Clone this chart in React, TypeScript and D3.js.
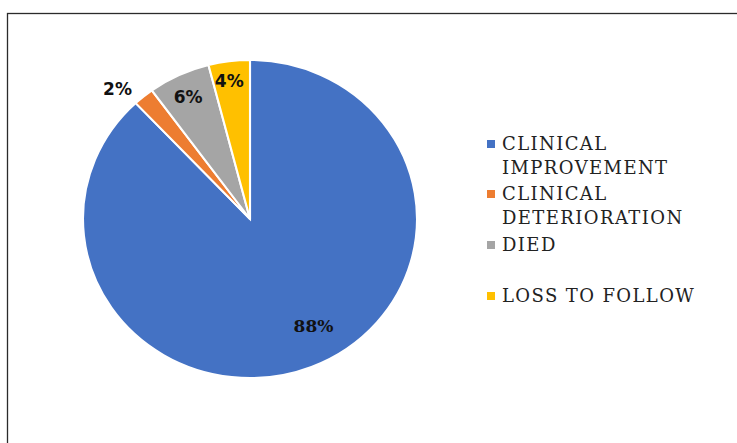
import React, { useRef, useEffect } from 'react';
import * as d3 from 'd3';

const categories = ['CLINICAL IMPROVEMENT', 'CLINICAL DETERIORATION', 'DIED', 'LOSS TO FOLLOW'];
const legendLines = [['CLINICAL', 'IMPROVEMENT'], ['CLINICAL', 'DETERIORATION'], ['DIED'], ['LOSS TO FOLLOW']];
const values = [88, 2, 6, 4];
const colors = ['#4472C4', '#ED7D31', '#A5A5A5', '#FFC000'];

const App: React.FC = () => {
  const svgRef = useRef<SVGSVGElement>(null);
  const width = 737;
  const height = 443;

  useEffect(() => {
    if (!svgRef.current) return;
    const svg = d3.select(svgRef.current);
    svg.selectAll('*').remove();

    // outer frame (runs off the right and bottom edges)
    svg.append('rect')
      .attr('x', 7.5)
      .attr('y', 13.5)
      .attr('width', 760)
      .attr('height', 460)
      .style('fill', 'white')
      .style('stroke', '#2b2b2b')
      .style('stroke-width', 1.3);

    const cx = 250;
    const cy = 219;
    const ry = 159;
    const rx = 167;

    const pie = d3.pie<number>().sort(null).value(d => d);
    const arcs = pie(values);
    const arc = d3.arc<d3.PieArcDatum<number>>().innerRadius(0).outerRadius(ry);

    const g = svg.append('g')
      .attr('transform', `translate(${cx},${cy}) scale(${rx / ry},1)`);

    g.selectAll('path')
      .data(arcs)
      .enter()
      .append('path')
      .attr('d', arc)
      .style('fill', (_, i) => colors[i])
      .style('stroke', 'white')
      .style('stroke-width', 2);

    // data labels: radius factor and angle nudge per slice (Excel best fit)
    const labelPos = [
      { r: 0.77, shift: -8, font: 'DejaVu Serif' },
      { r: 1.14, shift: -4.5, font: 'DejaVu Sans' },
      { r: 0.85, shift: -0.6, font: 'DejaVu Sans' },
      { r: 0.88, shift: -0.9, font: 'DejaVu Sans' }
    ];

    arcs.forEach((a, i) => {
      const mid = (a.startAngle + a.endAngle) / 2 + (labelPos[i].shift * Math.PI) / 180;
      const x = cx + Math.sin(mid) * rx * labelPos[i].r;
      const y = cy - Math.cos(mid) * ry * labelPos[i].r;
      svg.append('text')
        .attr('x', x)
        .attr('y', y)
        .attr('dy', '0.36em')
        .attr('text-anchor', 'middle')
        .style('font-family', labelPos[i].font)
        .style('font-weight', 'bold')
        .style('font-size', '17px')
        .style('fill', '#111')
        .text(`${values[i]}%`);
    });

    // legend
    const legend = svg.append('g').attr('transform', 'translate(487,0)');
    const itemY = [144, 194, 245, 296];
    const lineGap = 24;
    legendLines.forEach((lines, i) => {
      legend.append('rect')
        .attr('x', 0)
        .attr('y', itemY[i] - 4)
        .attr('width', 8)
        .attr('height', 8)
        .style('fill', colors[i]);
      lines.forEach((t, j) => {
        legend.append('text')
          .attr('x', 15)
          .attr('y', itemY[i] + j * lineGap)
          .attr('dy', '0.36em')
          .style('font-family', 'DejaVu Serif')
          .style('font-size', '18px')
          .style('letter-spacing', '1.4px')
          .style('fill', '#222')
          .text(t);
      });
    });
  }, []);

  return (
    <svg
      ref={svgRef}
      width={width}
      height={height}
      style={{ position: 'absolute', left: 0, top: 0, background: 'white' }}
      aria-label={categories.join(', ')}
    />
  );
};

export default App;
